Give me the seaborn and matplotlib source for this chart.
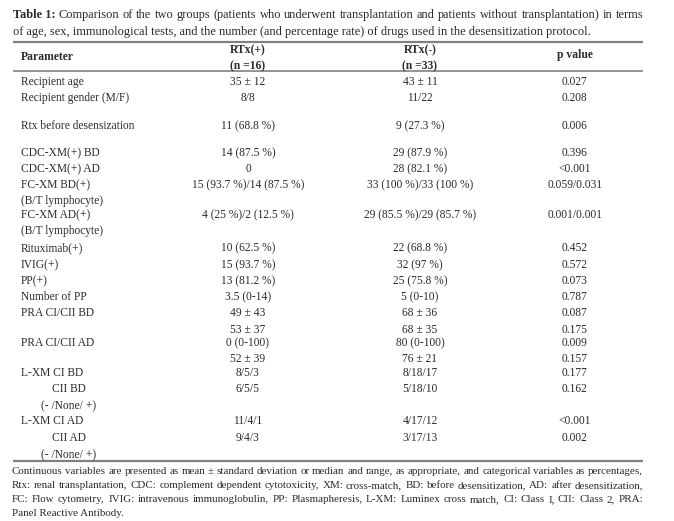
import seaborn as sns
import matplotlib.pyplot as plt

# table content
title_bold = "Table 1:"
title_rest = ("Comparison of the two groups (patients who underwent transplantation and "
              "patients without transplantation) in terms")
title_line2 = ("of age, sex, immunological tests, and the number (and percentage rate) "
               "of drugs used in the desensitization protocol.")

header_param = "Parameter"
header_pos = ["RTx(+)", "(n =16)"]
header_neg = ["RTx(-)", "(n =33)"]
header_p = "p value"

labels = ["Recipient age", "Recipient gender (M/F)", "Rtx before desensization",
          "CDC-XM(+) BD", "CDC-XM(+) AD", "FC-XM BD(+)", "(B/T lymphocyte)",
          "FC-XM AD(+)", "(B/T lymphocyte)", "Rituximab(+)", "IVIG(+)", "PP(+)",
          "Number of PP", "PRA CI/CII BD", "", "PRA CI/CII AD", "",
          "L-XM CI BD", "CII BD", "(- /None/ +)", "L-XM CI AD", "CII AD", "(- /None/ +)"]
rtx_pos = ["35 ± 12", "8/8", "11 (68.8 %)", "14 (87.5 %)", "0",
           "15 (93.7 %)/14 (87.5 %)", "", "4 (25 %)/2 (12.5 %)", "",
           "10 (62.5 %)", "15 (93.7 %)", "13 (81.2 %)", "3.5 (0-14)",
           "49 ± 43", "53 ± 37", "0 (0-100)", "52 ± 39",
           "8/5/3", "6/5/5", "", "11/4/1", "9/4/3", ""]
rtx_neg = ["43 ± 11", "11/22", "9 (27.3 %)", "29 (87.9 %)", "28 (82.1 %)",
           "33 (100 %)/33 (100 %)", "", "29 (85.5 %)/29 (85.7 %)", "",
           "22 (68.8 %)", "32 (97 %)", "25 (75.8 %)", "5 (0-10)",
           "68 ± 36", "68 ± 35", "80 (0-100)", "76 ± 21",
           "8/18/17", "5/18/10", "", "4/17/12", "3/17/13", ""]
p_values = ["0.027", "0.208", "0.006", "0.396", "<0.001", "0.059/0.031", "",
            "0.001/0.001", "", "0.452", "0.572", "0.073", "0.787",
            "0.087", "0.175", "0.009", "0.157",
            "0.177", "0.162", "", "<0.001", "0.002", ""]

footnote = [
    "Continuous variables are presented as mean ± standard deviation or median and range, as appropriate, and categorical variables as percentages,",
    "Rtx: renal transplantation, CDC: complement dependent cytotoxicity, XM: cross-match, BD: before desensitization, AD: after desensitization,",
    "FC: Flow cytometry, IVIG: intravenous immunoglobulin, PP: Plasmapheresis, L-XM: Luminex cross match, CI: Class I, CII: Class 2, PRA:",
    "Panel Reactive Antibody.",
]

# layout (pixels from top-left)
row_y = [82, 98, 126, 153, 169, 185, 201, 215, 231, 248, 265, 281, 297,
         313, 330, 343, 359, 373, 389, 406, 421, 438, 455]
label_x = [21] * len(labels)
for i, lab in enumerate(labels):
    if lab.startswith("CII"):
        label_x[i] = 52
    elif lab.startswith("(- /None"):
        label_x[i] = 41
col_pos, col_neg, col_p = 248, 420, 575
foot_y = [471, 485.5, 500, 514]
left, right = 13, 643

sns.set_theme(style="white")
plt.rcParams["font.family"] = ["Liberation Serif", "DejaVu Serif"]

txt = "#2b2b2b"
rule = "#808080"
body = 8.3
head = 8.4
title_fs = 8.9
foot_fs = 7.9

fig = plt.figure(figsize=(6.74, 5.21), dpi=100)
ax = fig.add_axes([0, 0, 1, 1])
ax.set_xlim(0, 674)
ax.set_ylim(521, 0)
ax.set_axis_off()
fig.canvas.draw()
inv = ax.transData.inverted()


def width_of(t):
    bb = t.get_window_extent().transformed(inv)
    return bb.x1 - bb.x0


def justified(line, x0, x1, y, fs):
    # spread words so the line fills x0..x1
    words = line.split(" ")
    arts = [ax.text(0, y, w, fontsize=fs, color=txt, va="center") for w in words]
    widths = [width_of(a) for a in arts]
    gap = (x1 - x0 - sum(widths)) / (len(words) - 1)
    x = x0
    for a, w in zip(arts, widths):
        a.set_x(x)
        x += w + gap


# title
t = ax.text(left, 15, title_bold, fontsize=title_fs, fontweight="bold", color=txt, va="center")
tb = t.get_window_extent().transformed(inv)
justified(title_rest, tb.x1 + 3, right, 15, title_fs)
ax.text(left, 32, title_line2, fontsize=title_fs, color=txt, va="center")

# rules
ax.hlines(42, left, right, color=rule, lw=1.6)
ax.hlines(71, left, right, color=rule, lw=1.2)
ax.hlines(461, left, right, color=rule, lw=1.6)

# header
ax.text(21, 57, header_param, fontsize=head, fontweight="bold", color=txt, va="center")
ax.text(col_pos, 50, header_pos[0], fontsize=head, fontweight="bold", color=txt, va="center", ha="center")
ax.text(col_pos, 66, header_pos[1], fontsize=head, fontweight="bold", color=txt, va="center", ha="center")
ax.text(col_neg, 50, header_neg[0], fontsize=head, fontweight="bold", color=txt, va="center", ha="center")
ax.text(col_neg, 66, header_neg[1], fontsize=head, fontweight="bold", color=txt, va="center", ha="center")
ax.text(col_p, 55, header_p, fontsize=head, fontweight="bold", color=txt, va="center", ha="center")

# body rows
for lab, a, b, p, y, x in zip(labels, rtx_pos, rtx_neg, p_values, row_y, label_x):
    ax.text(x, y, lab, fontsize=body, color=txt, va="center")
    ax.text(col_pos, y, a, fontsize=body, color=txt, va="center", ha="center")
    ax.text(col_neg, y, b, fontsize=body, color=txt, va="center", ha="center")
    ax.text(col_p, y, p, fontsize=body, color=txt, va="center", ha="center")

# footnote
for i, (line, y) in enumerate(zip(footnote, foot_y)):
    if i < len(footnote) - 1:
        justified(line, 12, right, y, foot_fs)
    else:
        ax.text(12, y, line, fontsize=foot_fs, color=txt, va="center")

fig.savefig("out.png", dpi=100)
